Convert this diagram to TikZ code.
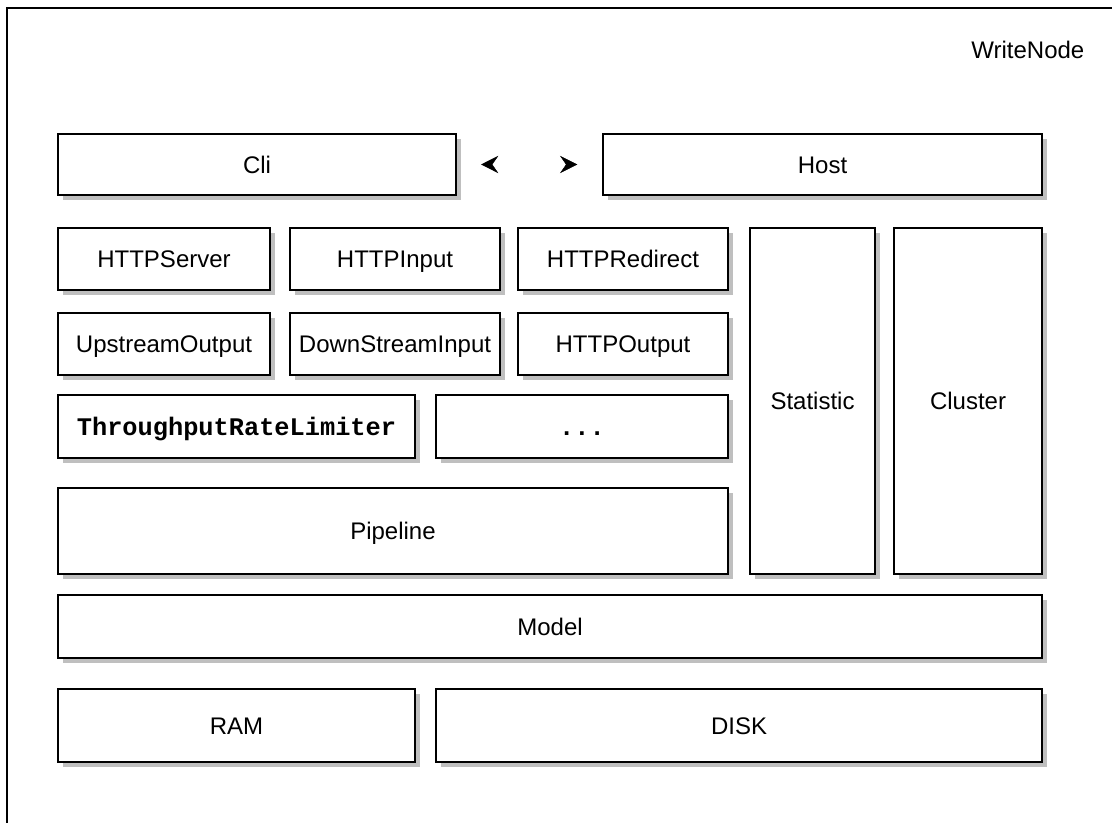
\documentclass[tikz,border=0pt]{standalone}
\usepackage{fontspec}
\setmainfont{Liberation Sans}
\newfontfamily\monofont{Liberation Mono}
\usetikzlibrary{arrows.meta,shadows}
\tikzset{
  px/.style={x=0.75pt,y=-0.75pt},
  box/.style={draw=black, line width=1.5pt, fill=white, inner sep=0pt,
    font=\fontsize{18}{20}\selectfont, text height=12.9pt, text depth=0pt,
    drop shadow={shadow xshift=3.4pt, shadow yshift=-3.4pt, fill=black!25, opacity=1}},
  conn/.style={draw=white, {Stealth[color=black,length=13pt,width=13pt,inset=4.5pt]}-{Stealth[color=black,length=13pt,width=13pt,inset=4.5pt]}}
}
% #1 name, #2 x1, #3 y1, #4 x2, #5 y2, #6 text
\newcommand\pxbox[6]{%
  \node[box, minimum width={(#4-#2)*0.75pt}, minimum height={(#5-#3)*0.75pt}]
    (#1) at ({(#2+#4)/2},{(#3+#5)/2}) {#6};}
\begin{document}
\begin{tikzpicture}[px]
\useasboundingbox (0,0) rectangle (1112,823);
\clip (0,0) rectangle (1112,823);
\fill[white] (0,0) rectangle (1112,823);
\draw[line width=1.5pt, drop shadow={shadow xshift=3.2pt, shadow yshift=-3.2pt, fill=black!25, opacity=1}, fill=white] (7,8) rectangle (1140,850);
\node[anchor=east, font=\fontsize{18}{20}\selectfont] (title) at (1089,50) {WriteNode};

\pxbox{cli}{58}{134}{456}{195}{Cli}
\pxbox{host}{603}{134}{1042}{195}{Host}
\draw[conn, shorten <=18pt, shorten >=18.5pt] (cli.east) -- (host.west);

\pxbox{httpserver}{58}{228}{270}{290}{HTTPServer}
\pxbox{httpinput}{290}{228}{500}{290}{HTTPInput}
\pxbox{httpredirect}{518}{228}{728}{290}{HTTPRedirect}
\pxbox{statistic}{750}{228}{875}{574}{Statistic}
\pxbox{cluster}{894}{228}{1042}{574}{Cluster}

\pxbox{upstream}{58}{313}{270}{375}{UpstreamOutput}
\pxbox{downstream}{290}{313}{500}{375}{DownStreamInput}
\pxbox{httpoutput}{518}{313}{728}{375}{HTTPOutput}

\pxbox{limiter}{58}{395}{415}{458}{{\monofont\bfseries\fontsize{19}{20}\selectfont ThroughputRateLimiter}}
\pxbox{more}{436}{395}{728}{458}{{\monofont\bfseries\fontsize{19}{20}\selectfont ...}}

\pxbox{pipeline}{58}{488}{728}{574}{Pipeline}
\pxbox{model}{58}{595}{1042}{658}{Model}
\pxbox{ram}{58}{689}{415}{762}{RAM}
\pxbox{disk}{436}{689}{1042}{762}{DISK}
\end{tikzpicture}
\end{document}
